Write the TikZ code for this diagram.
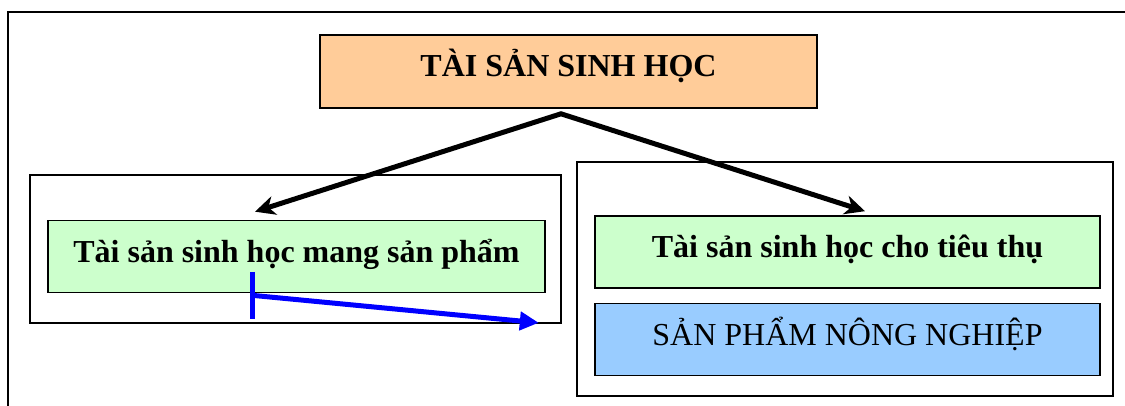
\documentclass[tikz,border=0pt]{standalone}
\usepackage{fontspec}
\setmainfont{Liberation Serif}
\usepackage{xcolor}
\definecolor{peach}{HTML}{FFCC99}
\definecolor{paleGreen}{HTML}{CCFFCC}
\definecolor{skyBlue}{HTML}{99CCFF}
\definecolor{linkBlue}{HTML}{0000FF}
\usepackage{tikz}
\usetikzlibrary{
    arrows.meta,
    positioning
}
\tikzset{
    % Base style for all boxes
    plain base/.style={
        rectangle,
        draw=black,
        line width=1.6pt,
        align=center,
        font=\fontsize{32}{38}\selectfont,
        text height=22pt,
        text depth=11pt,
    },
    % Heading box - peach
    headbox/.style={
        plain base,
        fill=peach,
        font=\fontsize{32}{38}\selectfont\bfseries,
        minimum width=497pt,
        minimum height=73pt,
    },
    % Asset boxes - pale green
    assetbox/.style={
        plain base,
        fill=paleGreen,
        font=\fontsize{32}{38}\selectfont\bfseries,
        minimum height=72pt,
    },
    % Product box - light blue
    productbox/.style={
        plain base,
        fill=skyBlue,
        minimum height=72pt,
    },
    % Group frames - empty
    groupframe/.style={
        rectangle,
        draw=black,
        line width=1.6pt,
    },
    % Arrow tip used by the black fork
    headtip/.tip={Stealth[length=20pt, width=19pt, inset=6pt]},
    % Black fork - one path, tips at both ends, sharp apex
    fork/.style={
        {headtip}-{headtip},
        line width=5pt,
        line join=miter,
    },
    % Blue link
    link/.style={
        -{Triangle[length=19pt, width=18pt]},
        line width=5pt,
        draw=linkBlue,
    },
    % Upright bar at the start of the blue link
    link bar/.style={
        line width=5pt,
        draw=linkBlue,
    },
}

\begin{document}
\begin{tikzpicture}[x=1pt, y=-1pt]
    \useasboundingbox (0,0) rectangle (1125,406);
    % page frame
    \draw [line width=1.6pt] (8,420) -- (8,12) -- (1140,12);

    \node (bearerframe) [groupframe, minimum width=531pt, minimum height=148pt] at (295.5,249) {};
    \node (consumableframe) [groupframe, minimum width=536pt, minimum height=234pt] at (845,279) {};

    \node (bio) [headbox] at (568.5,71.5) {TÀI SẢN SINH HỌC};
    \node (bearer) [assetbox, minimum width=497pt] at (296.5,256.5) {Tài sản sinh học mang sản phẩm};
    \node (consumable) [assetbox, minimum width=505pt] at (847.5,252) {Tài sản sinh học cho tiêu thụ};
    \node (agri) [productbox, minimum width=505pt, below=14pt of consumable] {SẢN PHẨM NÔNG NGHIỆP};

    \coordinate (apex) at ([xshift=-7.5pt,yshift=-5pt]bio.south);
    \coordinate (linkstart) at ([xshift=-44.5pt,yshift=-2pt]bearer.south);

    \draw [fork] ([xshift=-41.5pt,yshift=8pt]bearer.north) -- (apex) -- ([xshift=17.5pt,yshift=4pt]consumable.north);
    \draw [link bar] ([yshift=23.5pt]linkstart) -- ([yshift=-23.5pt]linkstart);
    \draw [link] (linkstart) -- ([xshift=-23pt,yshift=1pt]bearerframe.south east);
\end{tikzpicture}
\end{document}
